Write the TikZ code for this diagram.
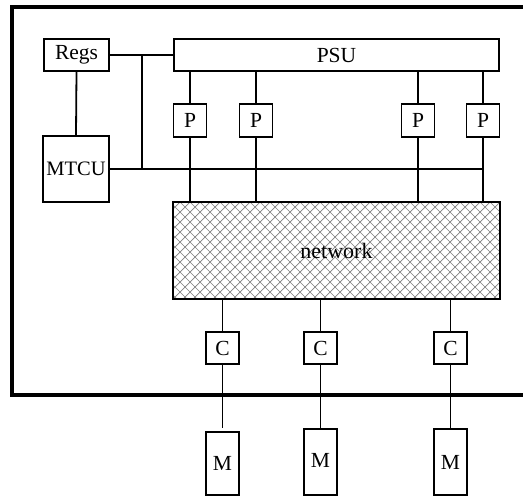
\documentclass[tikz,border=0pt]{standalone}
\usepackage{fontspec}
\setmainfont{Liberation Serif}
\begin{document}
\begin{tikzpicture}[x=1pt,y=-1pt,
  box/.style={draw, line width=1.8pt, inner sep=0pt, fill=white, font=\fontsize{21.5}{24}\selectfont},
  pbox/.style={box, minimum width=33pt, minimum height=33pt},
  wire/.style={line width=1.8pt},
  hatch/.style={gray, line width=0.7pt}]
\useasboundingbox (0,0) rectangle (523,496);
\begin{scope}
  \clip (0,0) rectangle (523,496);
  \draw[line width=4pt] (12,6.5) rectangle (545,395);
\end{scope}

% nodes
\node[box, minimum width=65pt, minimum height=32pt] (regs) at (76.5,55) {Regs};
\node[box, minimum width=325pt, minimum height=32pt] (psu) at (336.5,55) {PSU};
\node[box, minimum width=66pt, minimum height=66pt, font=\fontsize{20.5}{24}\selectfont] (mtcu) at (76,169) {MTCU};
\node[pbox] (p1) at (190,120.5) {P};
\node[pbox] (p2) at (256,120.5) {P};
\node[pbox] (p3) at (418,120.5) {P};
\node[pbox] (p4) at (483,120.5) {P};

% network with crosshatch
\begin{scope}
  \clip (173,202) rectangle (500,299);
  \fill[white] (173,202) rectangle (500,299);
  \foreach \c in {70,80,...,510} {
    \draw[hatch] (\c,202) -- ++(97,97);
  }
  \foreach \c in {170,180,...,610} {
    \draw[hatch] (\c,202) -- ++(-97,97);
  }
\end{scope}
\node[draw, line width=1.8pt, minimum width=327pt, minimum height=97pt, inner sep=0pt,
      font=\fontsize{22}{24}\selectfont] (net) at (336.5,250.5) {network};

\node[box, minimum width=33pt, minimum height=32pt] (c1) at (222.5,348) {C};
\node[box, minimum width=33pt, minimum height=32pt] (c2) at (320.5,348) {C};
\node[box, minimum width=33pt, minimum height=32pt] (c3) at (450.5,348) {C};
\node[box, minimum width=33pt, minimum height=63pt] (m1) at (222.5,463.5) {M};
\node[box, minimum width=33pt, minimum height=66pt] (m2) at (320.5,462) {\raisebox{3pt}{M}};
\node[box, minimum width=33pt, minimum height=66pt] (m3) at (450.5,462) {M};

\coordinate (j1) at (142,55);
\coordinate (j2) at (142,169);
\coordinate (busend) at (483,169);

% connectors
\draw[wire] (regs.east) -- (psu.west);
\draw[wire] (regs.south) -- (mtcu.north);
\draw[wire] (j1) -- (j2);
\draw[wire] (mtcu.east) -- (busend);
\foreach \p in {p1,p2,p3,p4} {
  \draw[wire] (\p |- psu.south) -- (\p.north);
  \draw[wire] (\p.south) -- (\p |- net.north);
}
\foreach \c in {c1,c2,c3} {
  \draw[wire] (\c |- net.south) -- (\c.north);
}
\draw[wire, shorten >=3pt] (c1.south) -- (m1.north);
\draw[wire] (c2.south) -- (m2.north);
\draw[wire] (c3.south) -- (m3.north);
\end{tikzpicture}
\end{document}
